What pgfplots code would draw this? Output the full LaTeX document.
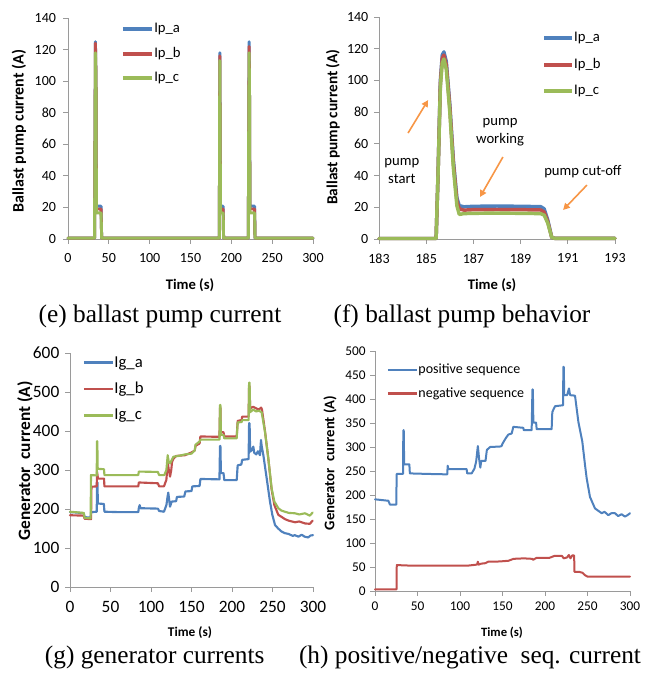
\documentclass[border=0pt]{standalone}
\usepackage{pgfplots}
\pgfplotsset{compat=1.18}
\usepackage{fontspec}
\setmainfont{Carlito}
\newfontfamily\capfont{Liberation Serif}
\usetikzlibrary{arrows.meta}
\definecolor{ca}{HTML}{4F81BD}
\definecolor{cb}{HTML}{C0504D}
\definecolor{cc}{HTML}{9BBB59}
\definecolor{axgray}{HTML}{9A9A9A}
\definecolor{arr}{HTML}{F79646}
\pgfplotsset{
  excel/.style={
    scale only axis, anchor=south west,
    axis x line=bottom, axis y line=left,
    x axis line style={-}, y axis line style={-},
    axis line style={draw=axgray, line width=0.6pt},
    every tick/.style={draw=axgray, line width=0.6pt},
    tick align=outside, major tick length=3.5pt,
    xtick pos=bottom, ytick pos=left,
    enlargelimits=false, clip=false,
    /pgf/number format/assume math mode=true,
    /pgf/number format/1000 sep={},
    legend cell align=left,
    legend style={draw=none, fill=none, inner sep=0pt,
      nodes={inner sep=0pt, anchor=west}},
    every axis plot/.append style={line join=round, line cap=round},
  },
  tf/.style={font=\fontsize{#1}{#1}\selectfont},
}
\begin{document}
\begin{tikzpicture}
\useasboundingbox (0pt,0pt) rectangle (485.25pt,504.75pt);
% ---------------- (e) ----------------
\begin{axis}[excel, at={(51pt,325.5pt)}, width=183.75pt, height=165.75pt,
  xmin=0, xmax=300, ymin=0, ymax=140,
  xtick={0,50,...,300}, ytick={0,20,...,140},
  tick label style={tf=10.5},
  x tick label style={yshift=-4pt}, y tick label style={xshift=-2pt},
  legend style={at={(0.215,0.977)}, anchor=north west, font=\fontsize{11}{11}\selectfont, row sep=9.5pt},
  legend image code/.code={\draw[#1, line width=3pt, line cap=butt] (0pt,0pt) -- (22pt,0pt);},
  every axis plot/.append style={line width=2.2pt}]
\addplot[ca] coordinates {(0,0.5) (32.5,0.5) (33.0,60) (33.6,125) (34.3,100) (34.8,20.8) (40.5,20.8) (41.2,0.5) (185.3,0.5) (185.6,60) (185.9,118) (186.3,70) (186.7,20.8) (190.0,20.8) (190.5,0.5) (220.8,0.5) (221.2,60) (221.8,125) (222.3,90) (222.8,20.8) (228.5,20.8) (229,0.5) (300,0.5)};
\addplot[cb] coordinates {(0,0.5) (32.5,0.5) (33.0,60) (33.6,124) (34.3,100) (34.8,19) (40.5,19) (41.2,0.5) (185.3,0.5) (185.6,60) (185.9,116) (186.3,70) (186.7,19) (190.0,19) (190.5,0.5) (220.8,0.5) (221.2,60) (221.8,122) (222.3,90) (222.8,19) (228.5,19) (229,0.5) (300,0.5)};
\addplot[cc] coordinates {(0,0.5) (32.5,0.5) (33.0,60) (33.6,118) (34.3,100) (34.8,16.5) (40.5,16.5) (41.2,0.5) (185.3,0.5) (185.6,60) (185.9,113) (186.3,70) (186.7,16.5) (190.0,16.5) (190.5,0.5) (220.8,0.5) (221.2,60) (221.8,118) (222.3,90) (222.8,16.5) (228.5,16.5) (229,0.5) (300,0.5)};
\legend{Ip\_a, Ip\_b, Ip\_c}
\end{axis}
% ---------------- (f) ----------------
\begin{axis}[excel, at={(284.25pt,325.5pt)}, width=177pt, height=166.5pt,
  xmin=183, xmax=193, ymin=0, ymax=140,
  xtick={183,185,...,193}, ytick={0,20,...,140},
  tick label style={tf=10.5},
  x tick label style={yshift=-4pt}, y tick label style={xshift=-1pt},
  legend style={at={(0.69,0.932)}, anchor=north west, font=\fontsize{11}{11}\selectfont, row sep=11pt},
  legend image code/.code={\draw[#1, line width=3pt, line cap=butt] (0pt,0pt) -- (21pt,0pt);},
  every axis plot/.append style={line width=2.6pt}]
\addplot[ca] coordinates {(183,0.3) (185.42,0.3) (185.5,40) (185.6,100) (185.68,116) (185.75,118) (185.85,112) (186.0,85) (186.15,50) (186.3,26) (186.4,21) (186.6,20.3) (187,20.6) (188,20.8) (189,20.6) (189.85,20.4) (190.0,19) (190.15,12) (190.32,1) (190.45,0.4) (193,0.4)};
\addplot[cb] coordinates {(183,0.3) (185.42,0.3) (185.5,40) (185.6,98) (185.68,114) (185.75,116) (185.85,110) (186.0,83) (186.15,48) (186.3,24) (186.4,19) (186.6,18.2) (187,18.5) (188,18.6) (189,18.5) (189.85,18.3) (190.0,17) (190.15,11) (190.32,1) (190.45,0.4) (193,0.4)};
\addplot[cc] coordinates {(183,0.3) (185.42,0.3) (185.5,40) (185.6,96) (185.68,111) (185.75,113.5) (185.85,107) (186.0,80) (186.15,45) (186.3,21) (186.4,15.5) (186.6,16) (187,16.2) (188,16.3) (189,16.2) (189.85,16) (190.0,15) (190.15,10) (190.32,1) (190.45,0.4) (193,0.4)};
\legend{Ip\_a, Ip\_b, Ip\_c}
\draw[arr, line width=1.2pt, -{Triangle[length=5pt,width=5pt]}] (axis cs:184.23,66.8) -- (axis cs:185.08,87.6);
\draw[arr, line width=1.2pt, -{Triangle[length=5pt,width=5pt]}] (axis cs:188.25,51.7) -- (axis cs:187.28,26.5);
\draw[arr, line width=1.2pt, -{Triangle[length=5pt,width=5pt]}] (axis cs:191.81,34) -- (axis cs:190.8,18.3);
\node[align=center, font=\fontsize{11}{13.5}\selectfont] at (axis cs:183.97,43) {pump\\start};
\node[align=center, font=\fontsize{11}{13.5}\selectfont] at (axis cs:188.13,67.5) {pump\\working};
\node[font=\fontsize{11}{13.5}\selectfont] at (axis cs:191.64,42.2) {pump cut-off};
\end{axis}
% ---------------- (g) ----------------
\begin{axis}[excel, at={(52.5pt,64.5pt)}, width=182.25pt, height=175.5pt,
  xmin=0, xmax=300, ymin=0, ymax=600,
  xtick={0,50,...,300}, ytick={0,100,...,600},
  tick label style={tf=13},
  x tick label style={yshift=-4pt}, y tick label style={xshift=-1pt},
  legend style={at={(0.05,0.987)}, anchor=north west, font=\fontsize{12.5}{12.5}\selectfont, row sep=10pt},
  legend image code/.code={\draw[#1, line width=2pt, line cap=butt] (0pt,0pt) -- (22pt,0pt);},
  every axis plot/.append style={line width=1.6pt}]
\addplot[ca] coordinates {(0,192) (8,191) (17,189) (18,179) (25.5,178) (26,192) (33,193) (33.4,268) (33.9,268) (34.4,214) (41.8,213) (42.5,193) (60,192) (84.3,192) (85,203) (86,210) (87,202) (108.5,201) (110,195) (116,193) (119,210) (120.5,232) (121.3,242) (122.5,222) (123.5,206) (125.5,219) (131,220) (132,231) (141,232) (142.5,245) (150,246) (151,258) (160,259) (161,277) (184.5,276) (185.2,362) (185.7,362) (186.3,292) (189.5,292) (190.5,274) (205.8,274) (207,312) (211.5,314) (212.5,326) (220.5,328) (221.1,420) (221.7,420) (222.4,347) (224,350) (226.3,360) (227.5,344) (230,340) (232,348) (234.5,338) (235.8,377) (236.6,362) (238.7,338) (242.8,279) (246.9,219) (249.8,185) (253.1,159) (257,150) (261.3,142) (265.4,138) (270,136) (275,131) (277.4,133) (282,129) (286,134) (289.7,129) (294,127) (297,132) (300,133)};
\addplot[cb] coordinates {(0,184) (17,183) (18,175) (26,174) (26.5,257) (33,258) (33.4,296) (34.5,278) (42,278) (42.5,258) (84.3,258) (85,268) (108.5,266) (110,258) (116,258) (119,275) (120.6,321) (122,300) (123.5,283) (125,300) (126,321) (128,330) (131,336) (142,338) (150,345) (154,350) (155,362) (160,368) (161,386) (184.5,385) (185.2,460) (185.7,460) (186.3,397) (189.5,397) (190.5,386) (205.8,386) (207,426) (212,428) (212.5,437) (220.5,437) (221.1,515) (221.7,515) (222.4,458) (226,462) (230,458) (233,455) (236,460) (237,455) (240.7,400) (244.8,330) (248.9,250) (252.3,210) (257.2,185) (261,180) (265.4,174) (270,170) (277.8,166) (283,168) (290.1,163) (296,162) (299.6,170)};
\addplot[cc] coordinates {(0,193) (17,190) (18,177) (25.5,176) (25.9,287) (33,286) (33.3,374) (33.7,374) (34.2,303) (42,302) (42.5,287) (84.3,287) (85,296) (108.5,295) (110,287) (116.4,287) (119,300) (120.6,338) (122,320) (123.5,317) (127.6,334) (133.7,336) (142,340) (150,342) (154,350) (155,365) (160,373) (161,378) (184.5,378) (185.2,467) (185.7,467) (186.3,390) (189.5,390) (190.5,381) (205.8,381) (207,422) (212,423) (212.5,428) (220.5,428) (221.1,524) (221.7,524) (222.4,448) (226,455) (230,450) (233,452) (236.6,448) (240.7,398) (244.8,330) (248.9,253) (252.3,219) (257.2,202) (261,196) (265.4,193) (270,190) (277.8,189) (283,186) (290.1,189) (296,183) (299.6,191)};
\legend{Ig\_a, Ig\_b, Ig\_c}
\end{axis}
% ---------------- (h) ----------------
\begin{axis}[excel, at={(281.25pt,61.5pt)}, width=191.25pt, height=180pt,
  xmin=0, xmax=300, ymin=0, ymax=500,
  xtick={0,50,...,300}, ytick={0,50,...,500},
  tick label style={tf=10},
  x tick label style={yshift=-1pt},
  legend style={at={(0.045,0.947)}, anchor=north west, font=\fontsize{10.5}{10.5}\selectfont, row sep=9pt},
  legend image code/.code={\draw[#1, line width=1.8pt, line cap=butt] (0pt,0pt) -- (22pt,0pt);},
  every axis plot/.append style={line width=1.5pt}]
\addplot[ca] coordinates {(0,191) (15.7,188) (17.6,180) (25,180) (25.5,244) (33,244) (33.3,335) (33.8,335) (34.3,264) (40.4,264) (41,245) (60,244) (85,243) (85.5,261) (86.3,254) (107.8,254) (108.5,245) (113.7,245) (117,255) (119,270) (121,302) (122.5,275) (123.9,257) (125,271) (130,271) (131.6,294) (135.5,300) (147,301) (149,302) (150,307) (153.7,318) (156.9,326) (160.8,328) (162.7,342) (174.5,340) (175,335) (184.3,335) (185.2,420) (185.7,420) (186.3,351) (189.5,351) (190.2,337) (207.8,337) (208.6,373) (211.8,385) (221.2,387) (221.6,467) (222.1,467) (222.6,408) (226,408) (228.2,422) (229.5,408) (235.3,407) (239.2,353) (243.9,311) (247.1,262) (249,235) (252.9,196) (258.8,172) (262,168) (266.7,162) (270,165) (274.5,158) (278,162) (282.4,162) (286,156) (290,160) (294.1,155) (297,158) (300,162)};
\addplot[cb] coordinates {(0,3.5) (25.3,3.5) (25.6,54) (40,53) (85,53) (110,53) (120,55) (121,61) (122,55) (125,57) (130,58) (133,61) (141,61) (150,62) (157,63) (163,67) (175,68) (185,67) (186,65) (190,69) (205,69) (211,73) (220,73) (222,68) (226,70) (228,75) (230,68) (232,74) (234.3,74) (234.6,40) (240,40) (244,38) (247,33) (250,30) (260,30) (300,30)};
\legend{positive sequence, negative sequence}
\end{axis}
% ---------------- labels ----------------
\node[rotate=90, font=\bfseries\fontsize{12}{12}\selectfont] at (14.25pt,406.5pt) {Ballast pump current (A)};
\node[rotate=90, font=\bfseries\fontsize{11.5}{11.5}\selectfont] at (249.75pt,409.5pt) {Ballast pump current (A)};
\node[rotate=90, font=\bfseries\fontsize{13}{13}\selectfont] at (18.75pt,159pt) {Generator\ \ current (A)};
\node[rotate=90, font=\bfseries\fontsize{11}{11}\selectfont] at (247.5pt,157.5pt) {Generator\ \ current (A)};
\node[font=\bfseries\fontsize{11}{11}\selectfont] at (142.5pt,291pt) {Time (s)};
\node[font=\bfseries\fontsize{11}{11}\selectfont] at (369pt,291pt) {Time (s)};
\node[font=\bfseries\fontsize{10}{10}\selectfont] at (142.5pt,30pt) {Time (s)};
\node[font=\bfseries\fontsize{9.5}{9.5}\selectfont] at (376.5pt,30pt) {Time (s)};
\node[font=\capfont\fontsize{19}{19}\selectfont] at (120pt,267.75pt) {(e) ballast pump current};
\node[font=\capfont\fontsize{19}{19}\selectfont] at (346.5pt,267.75pt) {(f) ballast pump behavior};
\node[font=\capfont\fontsize{19}{19}\selectfont] at (116pt,12pt) {(g) generator currents};
\node[font=\capfont\fontsize{19}{19}\selectfont] at (352.5pt,12pt) {(h) positive/negative\ \ seq. current};
\end{tikzpicture}
\end{document}
